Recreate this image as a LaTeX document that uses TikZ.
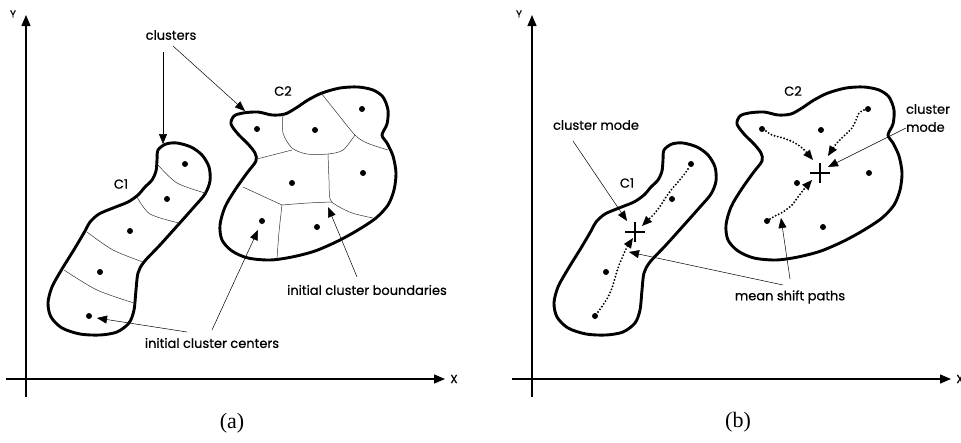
\documentclass[tikz,border=0pt]{standalone}
\usepackage{fontspec}
\setmainfont{Liberation Serif}
\newfontfamily\labfont[FakeBold=0.6]{Poppins}
\usetikzlibrary{arrows.meta}

\begin{document}
\begin{tikzpicture}[x=1pt,y=-1pt,
  axis/.style={line width=1.3pt,-{Triangle[length=11pt,width=9pt]}},
  outline/.style={line width=2.9pt,line join=round},
  cellline/.style={line width=0.5pt,black!80},
  pointer/.style={line width=0.5pt,-{Triangle[length=10pt,width=8pt]}},
  shiftpath/.style={line width=2.1pt,line cap=round,dash pattern=on 0pt off 3.3pt,
    -{Triangle[length=10pt,width=8.5pt,line width=0pt]}},
  lab/.style={font=\labfont\fontsize{13}{18}\selectfont,inner sep=0pt},
  axlab/.style={font=\labfont\fontsize{10}{12}\selectfont,inner sep=0pt},
  pt/.style={circle,fill,inner sep=0pt,minimum size=6pt},
  caption/.style={font=\fontsize{22}{24}\selectfont,inner sep=0pt},
  modecross/.style={line width=1.5pt}
]
\useasboundingbox (0,0) rectangle (961,442);

% axes and cluster outlines, common to both panels
\foreach \sx/\p in {0/a,506/b}{
  \begin{scope}[xshift=\sx pt]
    \coordinate (ybot\p) at (26,397);
    \coordinate (ytop\p) at (26,15);
    \coordinate (xleft\p) at (6,379);
    \coordinate (xright\p) at (445,379);
    \draw[axis] (ybot\p) -- (ytop\p);
    \draw[axis] (xleft\p) -- (xright\p);
    \node[axlab] (ylab\p) at (13,14) {Y};
    \node[axlab,font=\labfont\fontsize{11.5}{12}\selectfont] (xlab\p) at (454,379) {X};
    % cluster C1
    \draw[outline] plot[smooth cycle,tension=0.5] coordinates {
      (158,150) (166,144) (177,143) (191,147) (202,155) (209,167) (210,181)
      (205,194) (194,207) (178,225) (160,245) (144,262) (138,273) (136,290)
      (134,310) (129,323) (117,332) (100,335) (80,334) (62,328) (51,317)
      (48,303) (52,287) (62,269) (75,248) (85,231) (90,222) (99,214)
      (113,208) (128,202) (138,195) (145,187) (152,180) (156,171) (157,160)};
    % cluster C2
    \draw[outline] plot[smooth cycle,tension=0.5] coordinates {
      (231,124) (234,116) (243,113) (258,112) (272,115) (285,114) (296,108)
      (308,100) (322,93) (340,88) (358,87) (373,90) (383,97) (388,110)
      (387,124) (382,135) (387,143) (393,156) (396,173) (394,190) (388,205)
      (376,218) (358,230) (338,241) (315,251) (292,257) (270,260) (248,258)
      (232,251) (222,240) (220,225) (225,207) (235,190) (247,173) (256,161)
      (255,153) (248,144) (238,134)};
  \end{scope}
}

% ---------- panel (a): initial partition ----------
\node[lab] (c1a) at (121,184) {C1};
\node[lab] (c2a) at (283,91) {C2};

% cell boundaries inside C1
\draw[cellline] plot[smooth] coordinates {(158,165) (177,183) (205,193)};
\draw[cellline] plot[smooth] coordinates {(137,197) (150,214) (179,223)};
\draw[cellline] plot[smooth] coordinates {(87,232) (113,250) (143,262)};
\draw[cellline] plot[smooth] coordinates {(64,270) (97,290) (134,303)};

% cell boundaries inside C2
\draw[cellline] plot[smooth] coordinates {(283,114) (283,133) (292,148) (307,154) (328,154) (343,150) (355,135)};
\draw[cellline] plot[smooth] coordinates {(321,93) (337,113) (355,135) (367,143) (388,150)};
\draw[cellline] (257,159) -- (292,150);
\draw[cellline] plot[smooth] coordinates {(328,154) (329,180) (330,199) (336,205) (352,213) (373,218)};
\draw[cellline] (243,187) -- (282,205);
\draw[cellline] plot[smooth] coordinates {(282,205) (308,203) (332,202)};
\draw[cellline] plot[smooth] coordinates {(282,205) (279,232) (277,259)};

% initial cluster centers
\foreach \n/\x/\y in {1/185/164,2/167/199,3/130/231,4/100/272,5/89/316}
  \node[pt] (a1p\n) at (\x,\y) {};
\foreach \n/\x/\y in {1/257/129,2/315/130,3/362/109,4/292/183,5/363/173,6/262/221,7/317/227}
  \node[pt] (a2p\n) at (\x,\y) {};

% annotations
\node[lab] (clusters) at (171,35) {clusters};
\coordinate (clsA) at (163,52);   \coordinate (clsAt) at (163,144);
\coordinate (clsB) at (173,46);   \coordinate (clsBt) at (245,111);
\draw[pointer] (clsA) -- (clsAt);
\draw[pointer] (clsB) -- (clsBt);

\node[lab] (bounds) at (367,290) {initial cluster boundaries};
\coordinate (bdA) at (357,277);   \coordinate (bdAt) at (328,207);
\draw[pointer] (bdA) -- (bdAt);

\node[lab] (centers) at (212,343) {initial cluster centers};
\coordinate (ctA) at (187,332);   \coordinate (ctAt) at (97,318);
\coordinate (ctB) at (212,330);   \coordinate (ctBt) at (258,230);
\draw[pointer] (ctA) -- (ctAt);
\draw[pointer] (ctB) -- (ctBt);

\node[caption] (capa) at (232,423) {(a)};

% ---------- panel (b): mean shift ----------
\node[lab] (c1b) at (627,183) {C1};
\node[lab] (c2b) at (793,91) {C2};

\foreach \n/\x/\y in {1/691/164,2/672/199,3/606/272,4/595/316}
  \node[pt] (b1p\n) at (\x,\y) {};
\foreach \n/\x/\y in {1/762/129,2/821/130,3/868/109,4/797/183,5/869/173,6/767/221,7/823/227}
  \node[pt] (b2p\n) at (\x,\y) {};

% modes
\coordinate (mode1) at (635,232);
\coordinate (mode2) at (820,173);
\draw[modecross] ([xshift=-10pt]mode1) -- ([xshift=10pt]mode1)
                 ([yshift=-10pt]mode1) -- ([yshift=10pt]mode1);
\draw[modecross] ([xshift=-10pt]mode2) -- ([xshift=10pt]mode2)
                 ([yshift=-10pt]mode2) -- ([yshift=10pt]mode2);

% mean shift trajectories
\draw[shiftpath] plot[smooth] coordinates {(688,169) (683,176) (678,182) (672,189) (666,197) (661,205) (655,213) (648,220) (642,226)};
\draw[shiftpath] plot[smooth] coordinates {(598,312) (603,305) (608,297) (612,288) (615,278) (618,268) (622,258) (626,249) (633,238)};
\draw[shiftpath] plot[smooth] coordinates {(766,131) (772,135) (783,138) (793,142) (801,147) (807,153) (813,160)};
\draw[shiftpath] plot[smooth] coordinates {(864,110) (859,113) (856,120) (852,128) (844,136) (836,144) (828,156)};
\draw[shiftpath] plot[smooth] coordinates {(770,219) (775,216) (783,212) (792,205) (798,197) (805,188) (812,180)};

% annotations
\node[lab] (modeL) at (596,125) {cluster mode};
\coordinate (mLs) at (573,141);  \coordinate (mLt) at (627,221);
\draw[pointer] (mLs) -- (mLt);

\node[lab,align=left] (modeR) at (928,118) {cluster\\mode};
\coordinate (mRs) at (906,128);  \coordinate (mRt) at (828,167);
\draw[pointer] (mRs) -- (mRt);

\node[lab] (paths) at (790,297) {mean shift paths};
\coordinate (pA) at (783,285);   \coordinate (pAt) at (629,252);
\coordinate (pB) at (790,279);   \coordinate (pBt) at (781,218);
\draw[pointer] (pA) -- (pAt);
\draw[pointer] (pB) -- (pBt);

\node[caption] (capb) at (738,422) {(b)};
\end{tikzpicture}
\end{document}
